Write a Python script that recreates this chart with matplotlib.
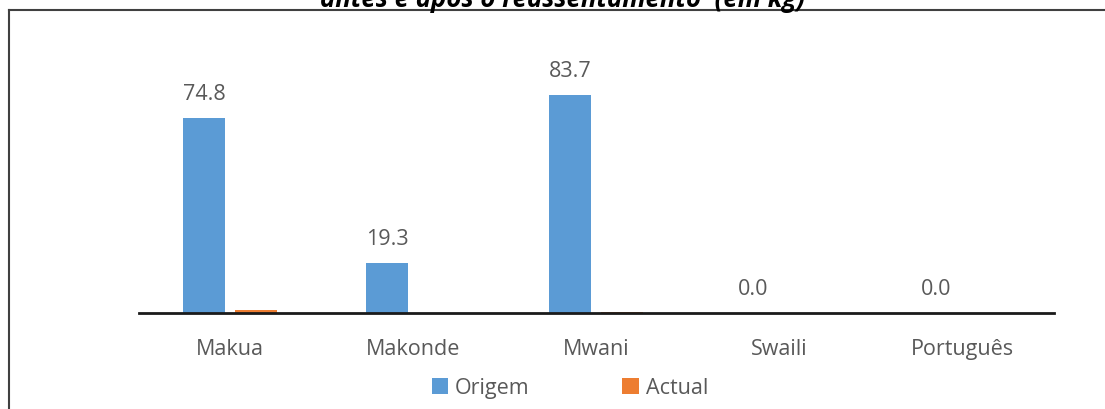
import matplotlib.pyplot as plt
import numpy as np

# Data
languages = ['Makua', 'Makonde', 'Mwani', 'Swaili', 'Português']
origem = [74.8, 19.3, 83.7, 0.0, 0.0]
actual = [1.3, 0.0, 0.5, 0.0, 0.0]
series_names = ['Origem', 'Actual']
title = 'antes e após o reassentamento  (em kg)'

blue = '#5B9BD5'
orange = '#ED7D31'
text_grey = '#595959'

plt.rcParams['font.family'] = ['Open Sans', 'DejaVu Sans']

fig = plt.figure(figsize=(11.05, 4.10), dpi=100)
W, H = 1105, 410

# axes placed so the baseline sits near y=314 px
ax = fig.add_axes([138.5 / W, (H - 314) / H, 915 / W, 260.7 / H])

x = np.arange(len(languages))
width = 0.23
offset = 0.142

ax.bar(x - offset, origem, width, color=blue, label=series_names[0], zorder=2)
ax.bar(x + offset, actual, width, color=orange, label=series_names[1], zorder=2)

# value labels on Origem only
for xi, v in zip(x, origem):
    ax.annotate(f'{v:.1f}', (xi - offset, v), xytext=(0, 10), textcoords='offset points',
                ha='center', va='bottom', fontsize=15.5, color=text_grey)

ax.set_xlim(-0.5, len(languages) - 0.5)
ax.set_ylim(0, 100)
ax.set_yticks([])
ax.set_xticks(x)
ax.set_xticklabels(languages, fontsize=15.5, color=text_grey)
ax.tick_params(axis='x', length=0, pad=18)
for s in ['top', 'right', 'left']:
    ax.spines[s].set_visible(False)
ax.spines['bottom'].set_color('#1a1a1a')
ax.spines['bottom'].set_linewidth(2)
ax.spines['bottom'].set_zorder(3)

# legend
leg = fig.legend(loc='center', bbox_to_anchor=(570 / W, (H - 389) / H), ncol=2,
                 frameon=False, fontsize=15.5, handlelength=0.75, handleheight=0.75,
                 handletextpad=0.35, columnspacing=4.3)
for t in leg.get_texts():
    t.set_color(text_grey)

# chart frame, partly cut by the image edge
fig.add_artist(plt.Line2D([8.5 / W, 8.5 / W], [0, (H - 11) / H], color='#404040', lw=1.5))
fig.add_artist(plt.Line2D([8.5 / W, 1], [(H - 11) / H, (H - 11) / H], color='#404040', lw=1.5))

# title, mostly above the visible area (as in the original)
fig.text(563 / W, (H - 7) / H, title, ha='center', va='baseline', fontsize=18.5,
         fontweight='bold', fontstyle='italic', color='black')

fig.savefig('out.png', dpi=100)
